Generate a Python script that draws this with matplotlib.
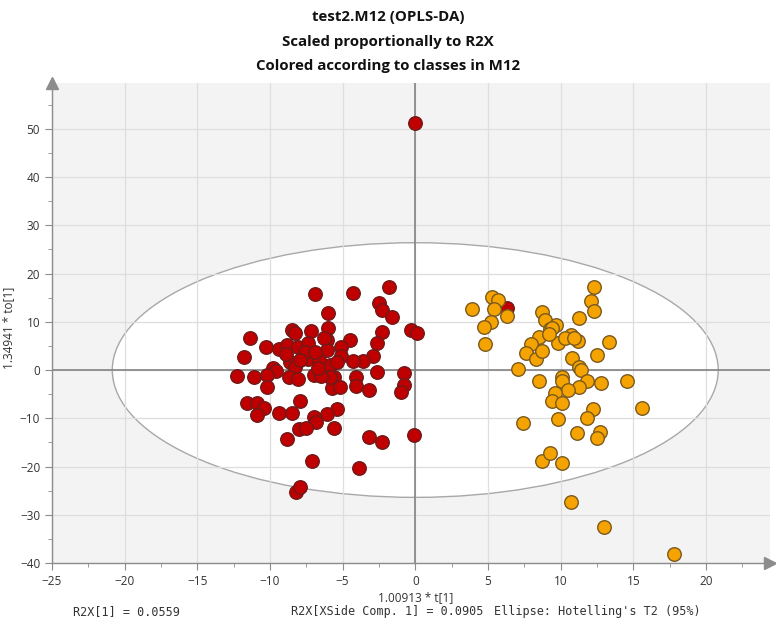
import matplotlib
matplotlib.use('Agg')
import matplotlib.pyplot as plt
from matplotlib.patches import Ellipse

# class 1 (red) scores
red_x = [0.0, -1.8, -4.3, -6.9, -2.5, -2.3, -1.6, -0.3, 0.1, -2.3, -2.6, -4.5,
         -6.0, -6.0, -5.1, -5.1, -2.9, -3.6, -4.3, -2.6, -0.8, -4.1, -4.1, -3.2,
         -0.8, -1.0, -5.6, -5.7, -5.2, -5.4, -6.1, -5.6, -3.2, -2.3, -0.1, -3.9,
         -6.1, -6.1, -5.9, -5.9, -5.4, -8.5, -8.3, -7.2, -11.4, -10.3, -9.4, -8.8,
         -8.1, -7.4, -6.3, -11.8, -8.6, -8.3, -7.4, -6.6, -9.8, -9.6, -12.3, -11.1,
         -10.2, -8.7, -8.1, -7.0, -6.5, -10.2, -11.6, -10.9, -10.4, -10.9, -9.4, -8.5,
         -7.9, -7.0, -6.8, -8.0, -7.5, -8.8, -7.1, -8.2, -7.9, -7.6, -6.9, -6.7,
         -7.9, -8.9, 6.3]
red_y = [51.3, 17.2, 15.9, 15.7, 13.9, 12.4, 11.0, 8.3, 7.7, 7.9, 5.6, 6.2,
         11.8, 8.7, 4.8, 2.9, 2.9, 1.9, 1.9, -0.4, -0.6, -1.4, -3.3, -4.1,
         -3.1, -4.6, -1.4, -3.7, -3.5, -8.1, -9.1, -12.0, -13.9, -14.9, -13.5, -20.3,
         6.2, 4.1, 1.0, -1.4, 1.7, 8.3, 7.7, 8.1, 6.6, 4.8, 4.3, 5.2,
         4.8, 5.6, 6.6, 2.7, 1.7, 0.6, 2.3, 2.1, 0.4, -0.2, -1.2, -1.4,
         -1.0, -1.4, -1.9, -1.0, -1.2, -3.5, -6.8, -6.8, -7.9, -9.3, -8.9, -8.9,
         -6.4, -9.7, -10.8, -12.2, -12.0, -14.3, -18.8, -25.3, -24.3, 3.7, 3.7, 0.4,
         2.1, 3.3, 12.8]

# class 2 (orange) scores
orange_x = [3.9, 5.3, 5.7, 5.4, 6.3, 5.2, 4.7, 4.8, 7.1, 8.5, 7.4, 8.7, 9.3,
            8.7, 8.9, 8.5, 8.0, 7.6, 8.3, 8.7, 9.3, 9.7, 9.8, 12.3, 12.1, 12.3,
            11.3, 9.4, 13.3, 10.7, 11.2, 10.3, 12.5, 10.8, 11.3, 11.4, 10.1, 10.1,
            11.8, 12.8, 14.6, 11.3, 10.5, 9.6, 9.4, 10.1, 15.6, 12.2, 11.8, 9.8,
            11.1, 12.7, 12.5, 10.1, 9.2, 10.9, 10.7, 13.0, 17.8]
orange_y = [12.6, 15.1, 14.5, 12.6, 11.2, 9.9, 8.9, 5.4, 0.2, -2.3, -11.0, -18.8, -17.2,
            12.0, 10.4, 6.8, 5.4, 3.5, 2.3, 3.9, 8.5, 9.3, 5.6, 17.2, 14.3, 12.2,
            10.8, 8.7, 5.8, 7.2, 6.0, 6.6, 3.1, 2.5, 0.6, 0.0, -1.4, -2.3,
            -2.3, -2.7, -2.3, -3.5, -4.1, -4.8, -6.4, -6.8, -7.9, -8.1, -9.9, -10.1,
            -13.0, -12.8, -14.1, -19.3, 7.5, 6.6, -27.3, -32.5, -38.1]

xticks = [-25, -20, -15, -10, -5, 0, 5, 10, 15, 20]
yticks = [-40, -30, -20, -10, 0, 10, 20, 30, 40, 50]

title_lines = ['test2.M12 (OPLS-DA)', 'Scaled proportionally to R2X',
               'Colored according to classes in M12']
footer = ['R2X[1] = 0.0559', 'R2X[XSide Comp. 1] = 0.0905',
          "Ellipse: Hotelling's T2 (95%)"]

ell_a, ell_b = 20.85, 26.4

plt.rcParams['font.family'] = ['Open Sans', 'DejaVu Sans']

fig = plt.figure(figsize=(7.76, 6.2), dpi=100)
ax = fig.add_axes([0.067, 0.092, 0.925, 0.774])
ax.set_facecolor('#f3f3f3')
ax.set_xlim(-25, 24.4)
ax.set_ylim(-40, 59.5)

ax.add_patch(Ellipse((0, 0), 2 * ell_a, 2 * ell_b, facecolor='white',
                     edgecolor='#a8a8a8', lw=1.0, zorder=0.3))

ax.set_xticks(xticks)
ax.set_yticks(yticks)
ax.set_xticks([x + 2.5 for x in xticks], minor=True)
ax.set_yticks([y + 5 for y in yticks], minor=True)
ax.grid(True, which='major', color='#dedede', lw=0.9, zorder=0.5)
ax.set_axisbelow(True)

ax.axhline(0, color='#7a7a7a', lw=1.1, zorder=1)
ax.axvline(0, color='#7a7a7a', lw=1.1, zorder=1)

ax.scatter(red_x, red_y, s=95, c='#c00000', edgecolors='#6e1a1a',
           linewidths=1.0, zorder=3)
ax.scatter(orange_x, orange_y, s=95, c='#f5a300', edgecolors='#7a5a1e',
           linewidths=1.0, zorder=3)

for s in ['top', 'right']:
    ax.spines[s].set_visible(False)
for s in ['left', 'bottom']:
    ax.spines[s].set_color('#8c8c8c')
    ax.spines[s].set_linewidth(1.0)
ax.plot(1, 0, '>', color='#8c8c8c', ms=8, transform=ax.transAxes, clip_on=False)
ax.plot(0, 1, '^', color='#8c8c8c', ms=8, transform=ax.transAxes, clip_on=False)

ax.tick_params(which='major', length=5, color='#8c8c8c', labelsize=8.5,
               labelcolor='#333333')
ax.tick_params(which='minor', length=3, color='#8c8c8c')

ax.set_xlabel('1.00913 * t[1]', fontsize=8.5, color='#333333')
ax.set_ylabel('1.34941 * to[1]', fontsize=8.5, color='#333333')
ax.xaxis.set_label_coords(0.507, -0.058)
ax.yaxis.set_label_coords(-0.052, 0.49)

for i, line in enumerate(title_lines):
    fig.text(0.5, 0.972 - i * 0.039, line, ha='center', va='center',
             fontsize=10.8, fontweight='bold', color='#111111')

# footer statistics, monospace like the original software
for xpos, txt in zip([0.094, 0.375, 0.637], footer):
    fig.text(xpos, 0.008, txt, family='DejaVu Sans Mono', fontsize=8.5,
             color='#333333')

fig.savefig('out.png', dpi=100)
